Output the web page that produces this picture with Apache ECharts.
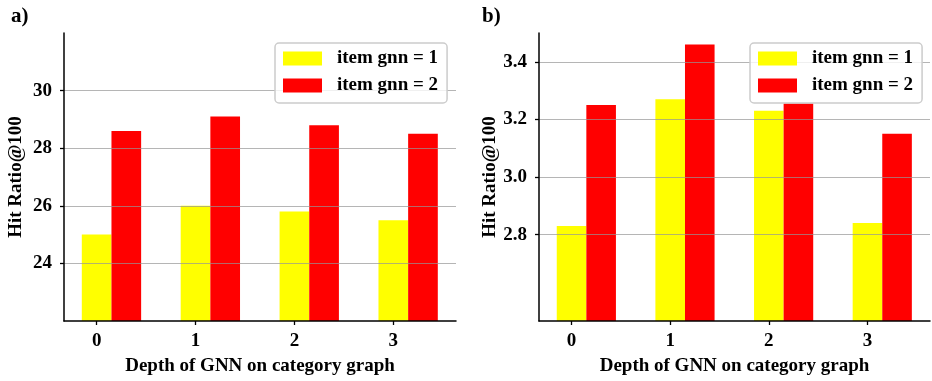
<!DOCTYPE html>
<html>
<head>
<meta charset="utf-8">
<script src="https://cdn.jsdelivr.net/npm/echarts@6/dist/echarts.min.js"></script>
<style>
html,body{margin:0;padding:0;background:#fff;}
#c{width:932px;height:381px;}
</style>
</head>
<body>
<div id="c"></div>
<script>
// ---- data ----
var categories = [0, 1, 2, 3];
var seriesNames = ['item gnn = 1', 'item gnn = 2'];
var hrA_gnn1 = [25.0, 26.0, 25.8, 25.5];
var hrA_gnn2 = [28.6, 29.1, 28.8, 28.5];
var hrB_gnn1 = [2.83, 3.27, 3.23, 2.84];
var hrB_gnn2 = [3.25, 3.46, 3.255, 3.15];
var yTicksA = [24, 26, 28, 30];
var yTicksB = [2.8, 3.0, 3.2, 3.4];
var panelLabels = ['a)', 'b)'];
var xTitle = 'Depth of GNN on category graph';
var yTitle = 'Hit Ratio@100';

// ---- layout ----
var BAR = 0.3;            // bar width in data units
var XMIN = -0.33, XMAX = 3.634;
var grids = [
  {left: 64, top: 33, width: 392, height: 289},
  {left: 539, top: 33, width: 391, height: 289}
];
var FONT = '"Liberation Serif", "Times New Roman", serif';
var barPx = grids.map(function (g) { return g.width * BAR / (XMAX - XMIN); });

function pts(vals, off) {
  return vals.map(function (v, i) { return [categories[i] + off, v]; });
}

function xAxis(idx) {
  return {
    type: 'value', gridIndex: idx, min: XMIN, max: XMAX, z: 3,
    axisLine: {show: true, onZero: false, lineStyle: {color: '#000', width: 1.5}},
    axisTick: {show: true, length: 4, lineStyle: {color: '#000', width: 1.3}, customValues: categories},
    axisLabel: {customValues: categories, margin: 11, color: '#000', fontFamily: FONT, fontWeight: 'bold', fontSize: 19},
    splitLine: {show: false},
    name: xTitle, nameLocation: 'middle', nameGap: 36,
    nameTextStyle: {color: '#000', fontFamily: FONT, fontWeight: 'bold', fontSize: 19}
  };
}
function yAxis(idx, min, max, ticks, dec) {
  return {
    type: 'value', gridIndex: idx, min: min, max: max, z: 3,
    axisLine: {show: true, onZero: false, lineStyle: {color: '#000', width: 1.5}},
    axisTick: {show: true, length: 4, lineStyle: {color: '#000', width: 1.3}, customValues: ticks},
    axisLabel: {customValues: ticks, margin: 12, color: '#000', fontFamily: FONT, fontWeight: 'bold', fontSize: 19,
      formatter: function (v) { return v.toFixed(dec); }},
    splitLine: {show: true, lineStyle: {color: 'rgba(150,150,150,0.7)', width: 1.2}},
    name: yTitle, nameLocation: 'middle', nameGap: 38,
    nameTextStyle: {color: '#000', fontFamily: FONT, fontWeight: 'bold', fontSize: 19}
  };
}
function legend(left) {
  return {
    orient: 'vertical', left: left, top: 43, itemWidth: 39, itemHeight: 14, itemGap: 8,
    padding: [6, 9, 8, 8],
    backgroundColor: 'rgba(255,255,255,0.8)', borderColor: '#cccccc', borderWidth: 1.5, borderRadius: 4,
    data: seriesNames, icon: 'rect',
    textStyle: {color: '#000', fontFamily: FONT, fontWeight: 'bold', fontSize: 19, padding: [0, 0, 0, 10]},
    selectedMode: false
  };
}
function bar(name, color, vals, off, idx) {
  return {
    type: 'bar', name: name, xAxisIndex: idx, yAxisIndex: idx,
    data: pts(vals, off), barWidth: barPx[idx], barGap: '-100%',
    itemStyle: {color: color}, silent: true, animation: false
  };
}

var chart = echarts.init(document.getElementById('c'), null, {renderer: 'canvas'});
chart.setOption({
  animation: false,
  backgroundColor: '#fff',
  title: [
    {text: panelLabels[0], left: 6, top: 1, textStyle: {color: '#000', fontFamily: FONT, fontWeight: 'bold', fontSize: 21}},
    {text: panelLabels[1], left: 477, top: 1, textStyle: {color: '#000', fontFamily: FONT, fontWeight: 'bold', fontSize: 21}}
  ],
  grid: grids,
  legend: [legend(275), legend(750)],
  xAxis: [xAxis(0), xAxis(1)],
  yAxis: [yAxis(0, 22, 32, yTicksA, 0), yAxis(1, 2.5, 3.5, yTicksB, 1)],
  series: [
    bar(seriesNames[0], '#ffff00', hrA_gnn1, 0, 0),
    bar(seriesNames[1], '#ff0000', hrA_gnn2, BAR, 0),
    bar(seriesNames[0], '#ffff00', hrB_gnn1, 0, 1),
    bar(seriesNames[1], '#ff0000', hrB_gnn2, BAR, 1)
  ]
});
</script>
</body>
</html>
